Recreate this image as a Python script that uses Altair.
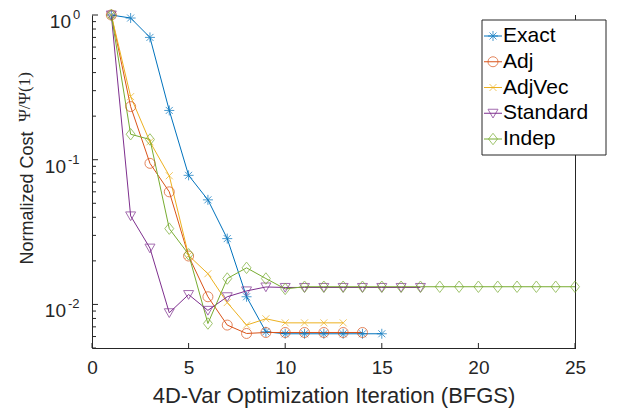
import altair as alt
import pandas as pd

# ---------------- data ----------------
names = ["Exact", "Adj", "AdjVec", "Standard", "Indep"]
colors = ["#0072BD", "#D95319", "#EDB120", "#7E2F8E", "#77AC30"]

exact = [1.0, 0.953, 0.700, 0.219, 0.078, 0.0528, 0.0285, 0.0113, 0.00647,
         0.00627, 0.00627, 0.00627, 0.00627, 0.00627, 0.00627]
adj = [1.0, 0.233, 0.0944, 0.060, 0.0216, 0.0113, 0.0072, 0.0063, 0.0064,
       0.0064, 0.0064, 0.0064, 0.0064, 0.0064]
adjvec = [1.0, 0.273, 0.133, 0.0775, 0.0218, 0.0163, 0.0103, 0.0072, 0.00796,
          0.00746, 0.00746, 0.00746, 0.00746]
standard = [1.0, 0.0409, 0.0245, 0.00876, 0.0117, 0.0091, 0.0113, 0.0124, 0.0132,
            0.0131, 0.0131, 0.0131, 0.0131, 0.0131, 0.0131, 0.0131, 0.0131]
indep = [1.0, 0.150, 0.138, 0.0334, 0.0222, 0.00738, 0.0151, 0.0179, 0.0151,
         0.0128, 0.01325, 0.01325, 0.01325, 0.01325, 0.01325, 0.01325, 0.01325,
         0.01325, 0.01325, 0.01325, 0.01325, 0.01325, 0.01325, 0.01325, 0.01325]
series_values = [exact, adj, adjvec, standard, indep]

x_ticks = [0, 5, 10, 15, 20, 25]
y_major = [1.0, 0.1, 0.01]
y_exp = ["0", "-1", "-2"]
y_minor = [0.005, 0.006, 0.007, 0.008, 0.009,
           0.02, 0.03, 0.04, 0.05, 0.06, 0.07, 0.08, 0.09,
           0.2, 0.3, 0.4, 0.5, 0.6, 0.7, 0.8, 0.9]

x_title = "4D-Var Optimization Iteration (BFGS)"
y_title = "Normalized Cost"
y_title_math = "\u03a8/\u03a8(1)"

# ---------------- styles ----------------
AX = "#262626"
FONT = "Liberation Sans"
W, H = 483, 333

marker_paths = [
    "M-1,0L1,0M0,-1L0,1M-0.7,-0.7L0.7,0.7M-0.7,0.7L0.7,-0.7",   # asterisk
    "circle",
    "M-0.7,-0.7L0.7,0.7M-0.7,0.7L0.7,-0.7",                      # x
    "M-1,-0.8L1,-0.8L0,0.95Z",                                    # triangle down
    "M0,-1.15L0.9,0L0,1.15L-0.9,0Z",                              # diamond
]

rows = []
for k, (n, vals) in enumerate(zip(names, series_values)):
    for i, v in enumerate(vals):
        rows.append({"series": n, "iter": i + 1, "value": v, "k": k})
df = pd.DataFrame(rows)

xscale = alt.Scale(domain=[0, 25], nice=False, zero=False)
yscale = alt.Scale(type="log", domain=[0.005, 1], nice=False)
cscale = alt.Scale(domain=names, range=colors)
sscale = alt.Scale(domain=names, range=marker_paths)

xaxis = alt.Axis(values=x_ticks, ticks=False, grid=False, domainColor=AX,
                 domainWidth=1, labelColor=AX, labelFont=FONT, labelFontSize=19,
                 labelPadding=10, labelFlush=False, title=x_title,
                 titleFont=FONT, titleFontSize=22, titleFontWeight="normal",
                 titleColor=AX, titleX=W / 2, titleY=47, titleBaseline="middle",
                 titleAlign="center")
yaxis = alt.Axis(labels=False, ticks=False, grid=False, domainColor=AX,
                 domainWidth=1, title=None)


def XQ(field):
    return alt.X(field, scale=xscale, axis=xaxis)


def YQ(field):
    return alt.Y(field, scale=yscale, axis=yaxis)


base = alt.Chart(df)
lines = base.mark_line(strokeWidth=1).encode(
    x=XQ("iter:Q"), y=YQ("value:Q"),
    color=alt.Color("series:N", scale=cscale, legend=None),
    detail="series:N",
)
points = base.mark_point(filled=False, size=100, strokeWidth=1).encode(
    x=XQ("iter:Q"), y=YQ("value:Q"),
    color=alt.Color("series:N", scale=cscale, legend=None),
    shape=alt.Shape("series:N", scale=sscale, legend=None),
)

# inward ticks
xt = alt.Chart(pd.DataFrame({"iter": x_ticks})).mark_rule(color=AX, strokeWidth=1).encode(
    x=XQ("iter:Q"), y=alt.value(H), y2=alt.value(H - 5))
ymaj = alt.Chart(pd.DataFrame({"value": y_major})).mark_rule(color=AX, strokeWidth=1).encode(
    y=YQ("value:Q"), x=alt.value(0), x2=alt.value(6))
ymin = alt.Chart(pd.DataFrame({"value": y_minor})).mark_rule(color=AX, strokeWidth=1).encode(
    y=YQ("value:Q"), x=alt.value(0), x2=alt.value(4))

# y tick labels 10^k
ylab = alt.Chart(pd.DataFrame({"value": y_major, "exp": y_exp}))
base_txt = ylab.mark_text(align="right", baseline="middle", fontSize=19, font=FONT,
                          color=AX, dy=7)
base0 = base_txt.transform_filter("datum.exp == '0'").encode(
    y=YQ("value:Q"), x=alt.value(-21), text=alt.value("10"))
base1 = base_txt.transform_filter("datum.exp != '0'").encode(
    y=YQ("value:Q"), x=alt.value(-26), text=alt.value("10"))
exp_txt = ylab.mark_text(align="left", baseline="middle", fontSize=13, font=FONT,
                         color=AX, dy=0).encode(y=YQ("value:Q"), text="exp:N")
exp0 = exp_txt.transform_filter("datum.exp == '0'").encode(x=alt.value(-19))
exp1 = exp_txt.transform_filter("datum.exp != '0'").encode(x=alt.value(-24))

# y title
yt1 = alt.Chart(pd.DataFrame({"t": [y_title]})).mark_text(
    angle=270, align="center", baseline="middle", fontSize=18, font=FONT, color=AX
).encode(x=alt.value(-64), y=alt.value(183), text="t:N")
yt2 = alt.Chart(pd.DataFrame({"t": [y_title_math]})).mark_text(
    angle=270, align="center", baseline="middle", fontSize=17, font="Liberation Serif", color=AX
).encode(x=alt.value(-67), y=alt.value(82), text="t:N")

# legend
leg_df = pd.DataFrame({"series": names})
LY = alt.Y("series:N", scale=alt.Scale(type="point", domain=names, range=[21, 124], padding=0),
           axis=None)
leg_box = alt.Chart(pd.DataFrame({"a": [0]})).mark_rect(
    fill="white", stroke=AX, strokeWidth=1
).encode(x=alt.value(390), x2=alt.value(514), y=alt.value(5), y2=alt.value(140))
leg_line = alt.Chart(leg_df).mark_rule(strokeWidth=1).encode(
    y=LY, x=alt.value(392), x2=alt.value(410),
    color=alt.Color("series:N", scale=cscale, legend=None))
leg_pt = alt.Chart(leg_df).mark_point(filled=False, size=100, strokeWidth=1).encode(
    y=LY, x=alt.value(401),
    color=alt.Color("series:N", scale=cscale, legend=None),
    shape=alt.Shape("series:N", scale=sscale, legend=None))
leg_txt = alt.Chart(leg_df).mark_text(align="left", baseline="middle", fontSize=21,
                                      font=FONT, color="black").encode(
    y=LY, x=alt.value(411), text="series:N")

chart = alt.layer(
    lines, points, xt, ymaj, ymin, base0, base1, exp0, exp1, yt1, yt2,
    leg_box, leg_line, leg_pt, leg_txt
).resolve_scale(y="independent").properties(
    width=W, height=H,
    autosize=alt.AutoSizeParams(type="none"),
    padding={"left": 84, "top": 7, "right": 40, "bottom": 60},
    background="white",
).configure_view(strokeWidth=0)

chart.save("out.html", embed_options={"renderer": "svg", "actions": False})
